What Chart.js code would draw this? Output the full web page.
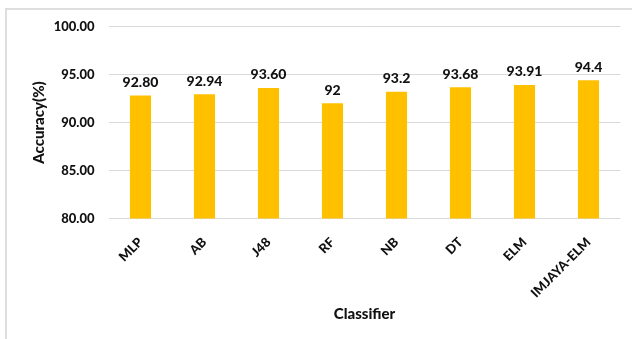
<!DOCTYPE html>
<html>
<head>
<meta charset="utf-8">
<script src="https://cdn.jsdelivr.net/npm/chart.js@4/dist/chart.umd.min.js"></script>
<style>
  html, body { margin: 0; padding: 0; background: #ffffff; overflow: hidden; }
  #wrap { position: relative; width: 632px; height: 339px; }
  #frame { position: absolute; left: 5px; top: 8px; width: 700px; height: 400px;
           border: 2px solid #dedede; box-sizing: border-box; }
  #c { position: absolute; left: 0; top: 0; }
</style>
</head>
<body>
<div id="wrap">
  <div id="frame"></div>
  <canvas id="c" width="632" height="339"></canvas>
</div>
<script>
// Classifier accuracy comparison
const classifiers = ['MLP', 'AB', 'J48', 'RF', 'NB', 'DT', 'ELM', 'IMJAYA-ELM'];
const accuracy = [92.80, 92.94, 93.60, 92, 93.2, 93.68, 93.91, 94.4];
const labelDecimals = [2, 2, 2, 0, 1, 2, 2, 1];
const yTicks = [80, 85, 90, 95, 100];

const FONT = 'Lato, "Open Sans", sans-serif';
const WEIGHT = '900';
const TEXT = '#111111';

// Value labels above each bar
const valueLabels = {
  id: 'valueLabels',
  afterDatasetsDraw(chart) {
    const ctx = chart.ctx;
    const meta = chart.getDatasetMeta(0);
    ctx.save();
    ctx.font = WEIGHT + ' 14px ' + FONT;
    ctx.fillStyle = TEXT;
    ctx.textAlign = 'center';
    ctx.textBaseline = 'bottom';
    meta.data.forEach((bar, i) => {
      const v = chart.data.datasets[0].data[i];
      ctx.fillText(v.toFixed(labelDecimals[i]), bar.x, bar.y - 6);
    });
    ctx.restore();
  }
};

new Chart(document.getElementById('c'), {
  type: 'bar',
  data: {
    labels: classifiers,
    datasets: [{
      data: accuracy,
      backgroundColor: '#FFC000',
      borderWidth: 0,
      barPercentage: 0.33,
      categoryPercentage: 1.0
    }]
  },
  options: {
    responsive: false,
    animation: false,
    devicePixelRatio: 1,
    layout: { padding: { left: 26, right: 11.5, top: 26.5, bottom: 12 } },
    plugins: { legend: { display: false }, tooltip: { enabled: false } },
    scales: {
      x: {
        grid: { display: false },
        border: { display: false },
        ticks: {
          color: TEXT,
          font: { family: FONT, size: 13, weight: WEIGHT },
          minRotation: 45, maxRotation: 45,
          padding: 8,
          autoSkip: false
        },
        title: {
          display: true, text: 'Classifier', color: TEXT,
          font: { family: FONT, size: 15, weight: WEIGHT },
          padding: { top: 4, bottom: 4 }
        },
        afterFit(scale) { scale.height = 108.5; }
      },
      y: {
        min: 80, max: 100,
        afterBuildTicks(scale) { scale.ticks = yTicks.map(v => ({ value: v })); },
        grid: { color: '#d9d9d9', lineWidth: 1, drawTicks: false },
        border: { display: false },
        ticks: {
          color: TEXT,
          font: { family: FONT, size: 13, weight: WEIGHT },
          padding: 14,
          callback: v => Number(v).toFixed(2)
        },
        title: {
          display: true, text: 'Accuracy(%)', color: TEXT,
          font: { family: FONT, size: 15, weight: WEIGHT },
          padding: { top: 4, bottom: 4 }
        },
        afterFit(scale) { scale.width = 82.5; }
      }
    }
  },
  plugins: [valueLabels]
});
</script>
</body>
</html>
